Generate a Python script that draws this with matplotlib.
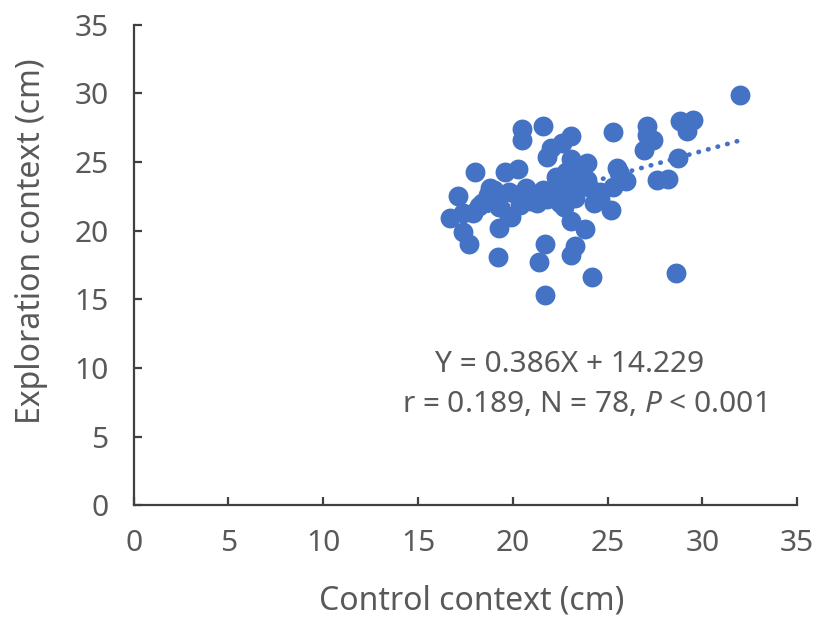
import numpy as np
import matplotlib
matplotlib.use('Agg')
import matplotlib.pyplot as plt

plt.rcParams['font.family'] = ['Noto Sans', 'DejaVu Sans']
plt.rcParams['mathtext.fontset'] = 'custom'
plt.rcParams['mathtext.it'] = 'Noto Sans:italic'
plt.rcParams['mathtext.rm'] = 'Noto Sans'

# Control context vs exploration context (cm)
control = [32.0, 28.8, 29.5, 29.2, 28.7, 27.1, 27.1, 27.4, 26.9, 27.6,
           28.2, 25.3, 25.5, 26.0, 25.2, 24.3, 25.3, 23.9, 23.9, 23.8,
           24.2, 28.6, 20.5, 20.5, 21.6, 23.1, 22.6, 22.0, 21.8, 23.1,
           18.0, 19.6, 20.3, 22.3, 23.2, 18.8, 19.8, 20.7, 21.6, 22.5,
           23.4, 17.1, 18.4, 19.3, 20.9, 21.8, 22.5, 23.3, 24.6, 16.7,
           17.4, 17.9, 19.8, 19.3, 23.1, 17.4, 17.7, 19.2, 21.7, 23.3,
           21.4, 23.1, 21.7, 19.9, 20.2, 22.0, 22.9, 23.6, 24.0, 22.8,
           21.3, 22.7, 20.4, 24.6, 25.6, 18.2, 18.7, 19.0]
exploration = [29.9, 28.0, 28.1, 27.3, 25.3, 27.6, 27.0, 26.6, 25.9, 23.7,
               23.8, 27.2, 24.6, 23.6, 21.5, 22.0, 23.2, 24.9, 23.7, 20.1,
               16.6, 16.9, 27.4, 26.6, 27.6, 26.9, 26.4, 26.0, 25.4, 25.2,
               24.3, 24.3, 24.5, 23.9, 23.9, 23.1, 22.8, 23.1, 23.0, 23.2,
               23.0, 22.5, 22.0, 21.7, 22.2, 22.3, 22.0, 22.4, 22.3, 20.9,
               21.3, 21.3, 21.1, 20.2, 20.7, 19.9, 19.0, 18.1, 19.0, 18.9,
               17.7, 18.2, 15.3, 21.0, 22.6, 22.7, 22.6, 24.6, 23.2, 24.3,
               22.0, 21.7, 21.9, 22.8, 24.3, 21.8, 22.6, 23.0]

slope = 0.386
intercept = 14.229
ticks = [0, 5, 10, 15, 20, 25, 30, 35]

blue = '#4472C4'
grey = '#595959'
fs = 21.5

fig = plt.figure(figsize=(8.2, 6.2), dpi=100)
ax = fig.add_axes([0.163, 0.185, 0.809, 0.775])

ax.scatter(control, exploration, s=205, color=blue, linewidths=0, zorder=3)

# linear trendline
xs = np.array([min(control), max(control)])
ax.plot(xs, slope * xs + intercept, color=blue, lw=3.4,
        linestyle=(0, (0.1, 2.0)), dash_capstyle='round', zorder=4)

ax.set_xlim(0, 35)
ax.set_ylim(0, 35)
ax.set_xticks(ticks)
ax.set_yticks(ticks)

for side in ['top', 'right']:
    ax.spines[side].set_visible(False)
for side in ['left', 'bottom']:
    ax.spines[side].set_color('#404040')
    ax.spines[side].set_linewidth(1.6)

ax.tick_params(direction='in', length=6, width=1.6, color='#404040',
               labelsize=fs, labelcolor=grey)
ax.tick_params(axis='x', pad=17)
ax.tick_params(axis='y', pad=18)

ax.set_xlabel('Control context (cm)', fontsize=23, color=grey, va='center')
ax.set_ylabel('Exploration context (cm)', fontsize=23, color=grey, va='center')
ax.xaxis.set_label_coords(0.51, -0.2)
ax.yaxis.set_label_coords(-0.154, 0.55)

ax.text(570 / 820, 1 - 365 / 620, 'Y = 0.386X + 14.229', transform=fig.transFigure,
        ha='center', va='center', fontsize=fs, color=grey)
ax.text(584 / 820, 1 - 404 / 620, 'r = 0.189, N = 78, $\\mathit{P}$ < 0.001',
        transform=fig.transFigure, ha='center', va='center', fontsize=fs, color=grey)

fig.savefig('out.png', dpi=100)
